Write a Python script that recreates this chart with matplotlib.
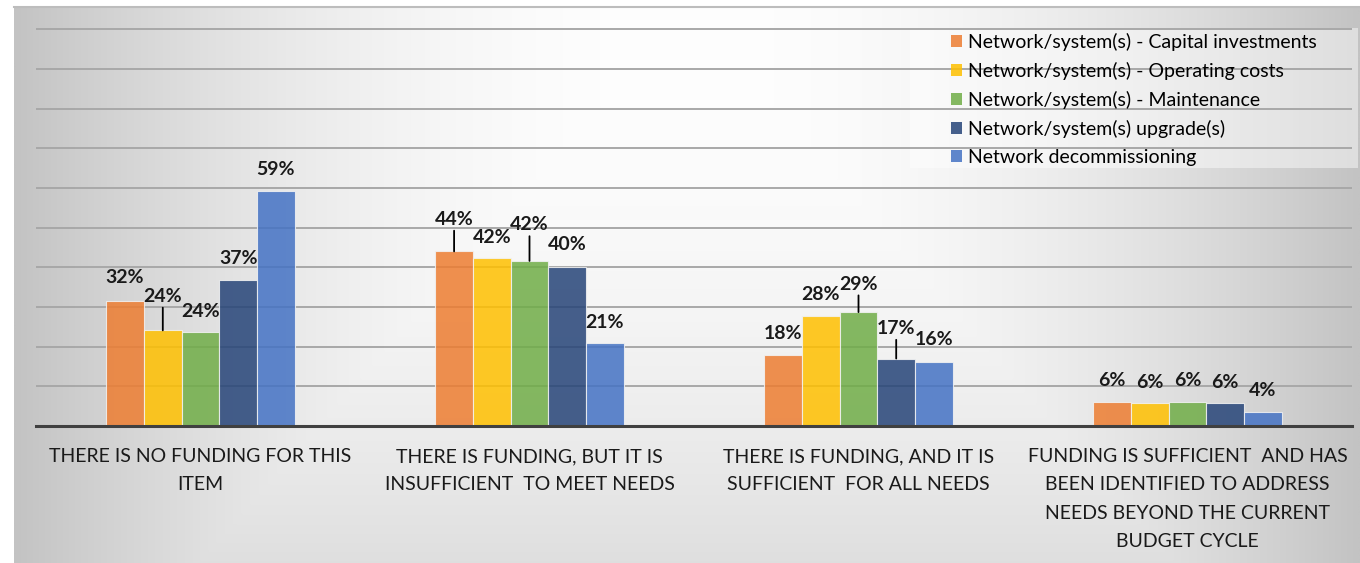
import numpy as np
import matplotlib.pyplot as plt
from matplotlib.patches import Rectangle, Patch

# categories / series
categories = ["THERE IS NO FUNDING FOR THIS\nITEM",
              "THERE IS FUNDING, BUT IT IS\nINSUFFICIENT  TO MEET NEEDS",
              "THERE IS FUNDING, AND IT IS\nSUFFICIENT  FOR ALL NEEDS",
              "FUNDING IS SUFFICIENT  AND HAS\nBEEN IDENTIFIED TO ADDRESS\nNEEDS BEYOND THE CURRENT\nBUDGET CYCLE"]
series = ["Network/system(s) - Capital investments",
          "Network/system(s) - Operating costs",
          "Network/system(s) - Maintenance",
          "Network/system(s) upgrade(s)",
          "Network decommissioning"]

capital = [0.316, 0.44, 0.178, 0.061]
operating = [0.241, 0.424, 0.276, 0.057]
maintenance = [0.236, 0.416, 0.287, 0.061]
upgrades = [0.367, 0.40, 0.170, 0.057]
decommission = [0.593, 0.208, 0.162, 0.036]
values = [capital, operating, maintenance, upgrades, decommission]

colors = ['#ED7D31', '#FFC000', '#70AD47', '#264478', '#4472C4']

# label lift above bar top (px) and which ones have leader lines
lift = [[23, 32, 22, 21], [34, 20, 22, 21], [21, 36, 28, 21], [22, 23, 30, 21], [21, 21, 22, 21]]
leader = [[0, 1, 0, 0], [1, 0, 0, 0], [0, 1, 1, 0], [0, 0, 1, 0], [0, 0, 0, 0]]

W, H = 1360, 563
fig = plt.figure(figsize=(W / 100, H / 100), dpi=100)

# background gradient (light at top centre, grey at edges)
bg = fig.add_axes([0, 0, 1, 1], zorder=-10)
bg.set_xlim(0, W)
bg.set_ylim(H, 0)
bg.axis('off')
xx, yy = np.meshgrid(np.linspace(14, W, 400), np.linspace(6, H, 200))
u = np.abs(xx - 687) / 673
v = (yy - 6) / 557 * 0.725
d = np.maximum(u, v) ** 2
g = (254 - 59 * d) / 255
bg.imshow(np.dstack([g, g, g]), extent=(14, W, H, 6), aspect='auto', interpolation='bilinear')
bg.plot([14, W], [6.5, 6.5], color='#bdbdbd', lw=1.5)
bg.add_patch(Rectangle((910, 28), 448, 140, facecolor='white', alpha=0.45, edgecolor='none'))

ax = fig.add_axes([36 / W, 1 - 426 / H, (1352 - 36) / W, (426 - 28) / H])
ax.set_facecolor('none')
x = np.arange(len(categories))
bw = 0.1146
for i, vals in enumerate(values):
    pos = x + (i - 2) * bw
    ax.bar(pos, vals, bw, color=colors[i], alpha=0.85, edgecolor='#f2f2f2', linewidth=0.8, zorder=3)
    for j, v in enumerate(vals):
        kw = {}
        if leader[i][j]:
            kw['arrowprops'] = dict(arrowstyle='-', color='black', lw=1.3, shrinkA=0, shrinkB=0)
        ax.annotate(f"{v:.0%}", (pos[j], v), xytext=(0, lift[i][j] * 0.72), textcoords='offset points',
                    ha='center', va='center', fontsize=14, fontweight='bold', family='Lato',
                    color='#1a1a1a', zorder=5, **kw)

ax.set_xlim(-0.5, 3.5)
ax.set_ylim(0, 1.003)
ax.set_yticks(np.arange(0, 1.01, 0.1))
ax.set_yticklabels([])
ax.tick_params(axis='y', length=0)
ax.grid(axis='y', color='#a8a8a8', lw=1.4, zorder=0)
ax.set_axisbelow(True)
for s in ['top', 'left', 'right']:
    ax.spines[s].set_visible(False)
ax.spines['bottom'].set_color('#404040')
ax.spines['bottom'].set_linewidth(2.2)
ax.spines['bottom'].set_zorder(4)
ax.set_xticks(x)
ax.set_xticklabels(categories, fontsize=14, family='Lato', color='#1a1a1a', linespacing=1.8)
ax.tick_params(axis='x', length=0, pad=16)

handles = [Patch(facecolor=c, alpha=0.85, edgecolor='none') for c in colors]
fig.legend(handles, series, loc='upper left', bbox_to_anchor=(951 / W, 1 - 33 / H), frameon=False,
           prop={'family': 'Lato', 'size': 14}, handlelength=0.55, handleheight=0.55,
           handletextpad=0.35, labelspacing=0.56, borderpad=0, borderaxespad=0)

fig.savefig('out.png', dpi=100)
